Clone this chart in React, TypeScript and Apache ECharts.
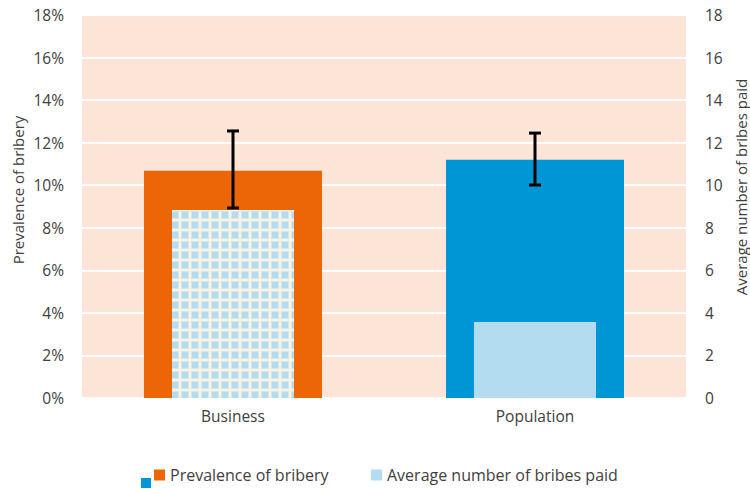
import React, { useEffect, useRef } from "react";
import * as echarts from "echarts";

const categories = ["Business", "Population"];
const prevalence = [10.68, 11.2];
const prevalenceColors = ["#EC6608", "#0096D6"];
const avgBribes = [8.83, 3.57];
const errLow = [8.93, 10.01];
const errHigh = [12.55, 12.45];
const leftTicksMax = 18;

const FONT = "Open Sans";
const TEXT = "#404040";

function makePattern() {
  const c = document.createElement("canvas");
  c.width = 10;
  c.height = 10;
  const ctx = c.getContext("2d")!;
  ctx.fillStyle = "#F8F3E2";
  ctx.fillRect(0, 0, 10, 10);
  ctx.fillStyle = "#D6E8EC";
  ctx.fillRect(1, 1, 8, 8);
  ctx.fillStyle = "#B4DCF0";
  ctx.fillRect(2, 2, 6, 6);
  return { image: c, repeat: "repeat", imageWidth: 10, imageHeight: 10 };
}

export default function App() {
  const ref = useRef<HTMLDivElement>(null);
  useEffect(() => {
    const chart = echarts.init(ref.current!, null, { renderer: "svg" });
    const pattern = makePattern();
    const option: any = {
      animation: false,
      textStyle: { fontFamily: FONT },
      grid: {
        left: 82,
        right: 64,
        top: 15,
        bottom: 91,
        show: true,
        backgroundColor: "#FCE4D6",
        borderWidth: 0,
      },
      legend: [
        {
          data: ["Prevalence of bribery"],
          left: 154,
          top: 467,
          padding: 0,
          itemWidth: 11,
          itemHeight: 11,
          itemGap: 5,
          icon: "rect",
          textStyle: { fontFamily: FONT, fontSize: 16, color: TEXT },
        },
        {
          data: [{ name: "Average number of bribes paid", itemStyle: { color: "#B4DCF0" } }],
          left: 371,
          top: 467,
          padding: 0,
          itemWidth: 11,
          itemHeight: 11,
          icon: "rect",
          textStyle: { fontFamily: FONT, fontSize: 16, color: TEXT },
        },
      ],
      xAxis: [
        {
          type: "category",
          data: categories,
          axisLine: { show: false },
          axisTick: { show: false },
          axisLabel: { fontFamily: FONT, fontSize: 15.5, color: TEXT, margin: 10 },
        },
        {
          type: "category",
          data: categories,
          show: false,
        },
      ],
      yAxis: [
        {
          type: "value",
          min: 0,
          max: leftTicksMax,
          interval: 2,
          axisLine: { show: false },
          axisTick: { show: false },
          axisLabel: { formatter: "{value}%", fontFamily: FONT, fontSize: 15.5, color: TEXT, margin: 18 },
          splitLine: { lineStyle: { color: "#FFFFFF", width: 2 } },
        },
        {
          type: "value",
          min: 0,
          max: 18,
          interval: 2,
          position: "right",
          axisLine: { show: false },
          axisTick: { show: false },
          axisLabel: { fontFamily: FONT, fontSize: 15.5, color: TEXT, margin: 19 },
          splitLine: { show: false },
        },
      ],
      graphic: [
        {
          type: "text",
          x: 18,
          y: 190,
          rotation: Math.PI / 2,
          style: {
            text: "Prevalence of bribery",
            fontFamily: FONT,
            fontSize: 15,
            fill: TEXT,
            align: "center",
            verticalAlign: "middle",
          },
        },
        {
          type: "text",
          x: 741,
          y: 187,
          rotation: Math.PI / 2,
          style: {
            text: "Average number of bribes paid",
            fontFamily: FONT,
            fontSize: 15,
            fill: TEXT,
            align: "center",
            verticalAlign: "middle",
          },
        },
        {
          type: "rect",
          shape: { x: 141, y: 478, width: 10, height: 10 },
          style: { fill: "#0096D6" },
        },
      ],
      series: [
        {
          name: "Prevalence of bribery",
          type: "bar",
          xAxisIndex: 0,
          yAxisIndex: 0,
          barWidth: 178,
          z: 2,
          itemStyle: { color: prevalenceColors[0] },
          data: prevalence.map((v, i) => ({ value: v, itemStyle: { color: prevalenceColors[i] } })),
        },
        {
          name: "Average number of bribes paid",
          type: "bar",
          xAxisIndex: 1,
          yAxisIndex: 1,
          barWidth: 122,
          z: 3,
          itemStyle: { color: "#B4DCF0" },
          data: avgBribes.map((v, i) => ({ value: v, itemStyle: { color: i === 0 ? pattern : "#B4DCF0" } })),
        },
        {
          name: "error",
          type: "custom",
          xAxisIndex: 0,
          yAxisIndex: 0,
          z: 10,
          data: categories.map((_, i) => [i, errLow[i], errHigh[i]]),
          renderItem: (params: any, api: any) => {
            const x = api.value(0);
            const lo = api.coord([x, api.value(1)]);
            const hi = api.coord([x, api.value(2)]);
            const cap = 6;
            const style = { stroke: "#000000", lineWidth: 3 };
            return {
              type: "group",
              children: [
                { type: "line", shape: { x1: lo[0], y1: lo[1], x2: hi[0], y2: hi[1] }, style },
                { type: "line", shape: { x1: hi[0] - cap, y1: hi[1], x2: hi[0] + cap, y2: hi[1] }, style },
                { type: "line", shape: { x1: lo[0] - cap, y1: lo[1], x2: lo[0] + cap, y2: lo[1] }, style },
              ],
            };
          },
        },
      ],
    };
    chart.setOption(option);
    return () => chart.dispose();
  }, []);
  return (
    <div
      ref={ref}
      style={{ position: "fixed", left: 0, top: 0, width: 750, height: 489, background: "#FFFFFF" }}
    />
  );
}
